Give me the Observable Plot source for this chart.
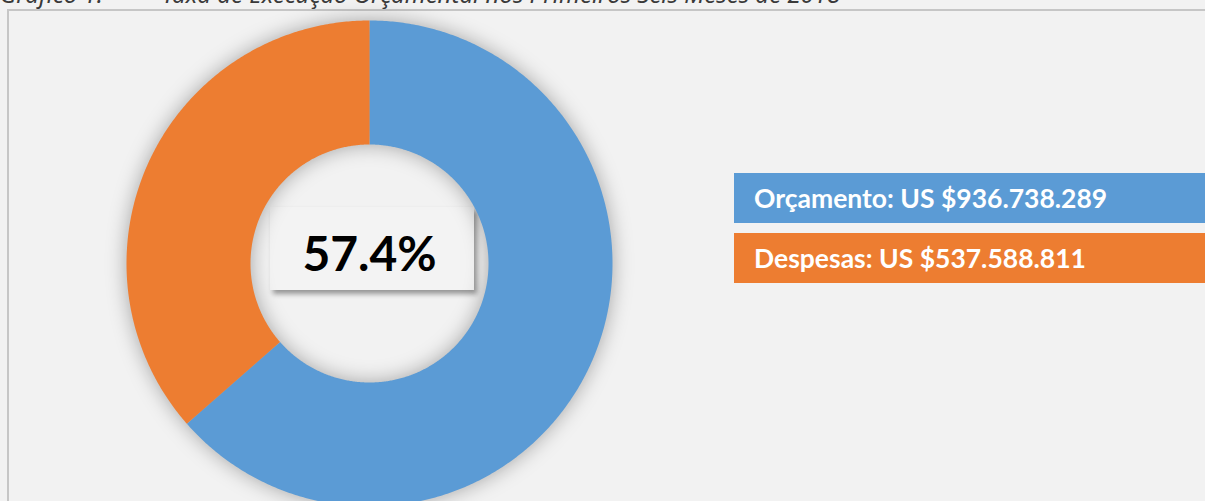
<!DOCTYPE html>
<html><head><meta charset="utf-8">
<script src="https://cdn.jsdelivr.net/npm/d3@7"></script>
<script src="https://cdn.jsdelivr.net/npm/@observablehq/plot@0.6"></script>
<style>
body{margin:0;background:#f2f2f2;width:1205px;height:501px;overflow:hidden;position:relative;}
.t{position:absolute;top:-18px;font:italic 24px "Noto Sans",sans-serif;color:#3a3a3a;white-space:pre;line-height:24px}
#frame{position:absolute;left:7px;top:9px;width:1300px;height:600px;border-left:2px solid #c6c6c6;border-top:2px solid #c6c6c6}
#box{position:absolute;left:270px;top:207px;width:204px;height:83px;background:#f3f3f3;box-shadow:3px 4px 5px rgba(0,0,0,0.38)}
#chart{position:absolute;left:0;top:0}
.lg{position:absolute;left:734px;width:520px;height:50px;color:#fff;font:bold 26.5px Lato,sans-serif;line-height:50px;padding-left:20px;box-sizing:border-box}
</style></head>
<body>
<div class="t" style="left:0px">Gráfico 1:</div>
<div class="t" style="left:162px">Taxa de Execução Orçamental nos Primeiros Seis Meses de 2018</div>
<div id="frame"></div>
<div id="box"></div>
<div id="chart"></div>
<div id="legend"></div>
<script>
// Data
const categories = ["Orçamento", "Despesas"];
const values = [936738289, 537588811];
const colors = ["#5b9bd5", "#ed7d31"];
const valueLabels = ["US $936.738.289", "US $537.588.811"];

const W = 1205, H = 501;
const cx = 369, cy = 263, R = 243, rInner = 119 / 243;

const pie = d3.pie().sort(null).value(d => d.value)(categories.map((c, i) => ({cat: c, value: values[i]})));
const pts = [];
for (const a of pie) {
  const n = Math.max(8, Math.ceil((a.endAngle - a.startAngle) / (Math.PI / 360)));
  for (let k = 0; k <= n; k++) {
    const t = a.startAngle + (a.endAngle - a.startAngle) * k / n;
    pts.push({cat: a.data.cat, x: Math.sin(t), y: Math.cos(t)});
  }
  for (let k = n; k >= 0; k--) {
    const t = a.startAngle + (a.endAngle - a.startAngle) * k / n;
    pts.push({cat: a.data.cat, x: rInner * Math.sin(t), y: rInner * Math.cos(t)});
  }
}
const rate = values[1] / values[0] * 100;

const chart = Plot.plot({
  width: W, height: H,
  margin: 0,
  x: {domain: [-cx / R, (W - cx) / R], axis: null},
  y: {domain: [-(H - cy) / R, cy / R], axis: null},
  color: {domain: categories, range: colors},
  style: {background: "transparent", overflow: "visible"},
  marks: [
    Plot.line(pts, {x: "x", y: "y", z: "cat", fill: "cat", stroke: "none", curve: "linear-closed"}),
    Plot.text([rate], {x: 0, y: 0, text: d => d.toFixed(1) + "%", fontSize: 48, fontWeight: "bold", fontFamily: "Lato, sans-serif", fill: "#000", dy: -8})
  ]
});
d3.select(chart).selectAll("g[aria-label='line']").style("filter", "drop-shadow(0px 0px 10px rgba(0,0,0,0.32))");
document.getElementById("chart").appendChild(chart);

const lg = document.getElementById("legend");
categories.forEach((c, i) => {
  const d = document.createElement("div");
  d.className = "lg";
  d.style.top = (173 + i * 60) + "px";
  d.style.background = colors[i];
  d.textContent = c + ": " + valueLabels[i];
  lg.appendChild(d);
});
</script>
</body></html>
